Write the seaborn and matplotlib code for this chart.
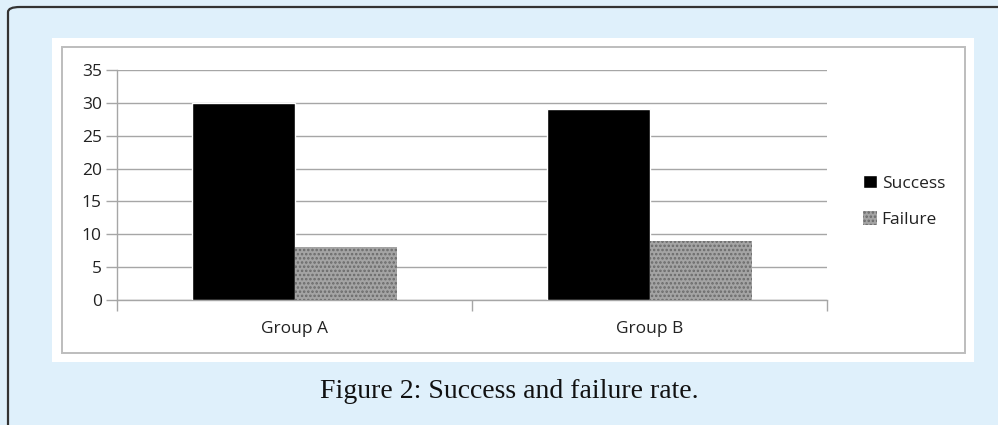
import numpy as np
import pandas as pd
import matplotlib
matplotlib.use("Agg")
import matplotlib.pyplot as plt
import seaborn as sns
from matplotlib.patches import Rectangle, FancyBboxPatch

# Chart data
groups = ["Group A", "Group B"]
success = [30, 29]
failure = [8, 9]
y_ticks = [0, 5, 10, 15, 20, 25, 30, 35]
caption = "Figure 2: Success and failure rate."

df = pd.DataFrame({
    "group": groups * 2,
    "status": ["Success"] * len(groups) + ["Failure"] * len(groups),
    "value": success + failure,
})

W, H = 998, 425
sns.set_theme(style="white")
plt.rcParams["font.family"] = ["Open Sans", "DejaVu Sans"]
plt.rcParams["hatch.color"] = "#5e5e5e"
plt.rcParams["hatch.linewidth"] = 1.2

fig = plt.figure(figsize=(W / 100, H / 100), dpi=100)
fig.patch.set_facecolor("#dff0fb")

def fx(px):
    return px / W

def fy(py):
    return 1 - py / H

# outer dark frame (rounded top-left corner)
frame = FancyBboxPatch((fx(8), fy(440)), fx(1100), 433 / H,
                       boxstyle="round,pad=0,rounding_size=0.012",
                       transform=fig.transFigure, facecolor="none",
                       edgecolor="#333333", linewidth=1.6, zorder=0)
fig.patches.append(frame)

# white panel and gray chart border
fig.patches.append(Rectangle((fx(52), fy(362)), fx(974 - 52), (362 - 38) / H,
                             transform=fig.transFigure, facecolor="white",
                             edgecolor="none", zorder=0))
fig.patches.append(Rectangle((fx(62), fy(353)), fx(965 - 62), (353 - 47) / H,
                             transform=fig.transFigure, facecolor="none",
                             edgecolor="#bdbdbd", linewidth=1.4, zorder=1))

ax = fig.add_axes([fx(117), fy(300), fx(827 - 117), (300 - 70) / H])
ax.set_facecolor("none")
ax.set_zorder(5)

sns.barplot(data=df, x="group", y="value", hue="status", ax=ax,
            palette={"Success": "black", "Failure": "#a4a4a4"},
            width=0.576, saturation=1, gap=0, legend=False, zorder=3)

for patch in ax.patches[len(groups):]:
    patch.set_hatch("....")
    patch.set_edgecolor("#6a6a6a")
    patch.set_linewidth(0)

grid_gray = "#a6a6a6"
ax.set_ylim(0, 35)
ax.set_yticks(y_ticks)
ax.set_xlim(-0.5, len(groups) - 0.5)
ax.grid(axis="y", color=grid_gray, linewidth=1.0, zorder=0)
ax.set_axisbelow(True)
ax.set_xlabel("")
ax.set_ylabel("")

for side in ["top", "right"]:
    ax.spines[side].set_visible(False)
for side in ["left", "bottom"]:
    ax.spines[side].set_color(grid_gray)
    ax.spines[side].set_linewidth(1.0)

ax.tick_params(axis="y", left=True, length=8, color=grid_gray, width=1,
               labelsize=12.5, labelcolor="#222222", pad=3)
ax.tick_params(axis="x", bottom=False, labelsize=12.5, labelcolor="#222222", pad=9)
ax.set_xticks(np.arange(-0.5, len(groups)), minor=True)
ax.tick_params(axis="x", which="minor", bottom=True, length=8,
               color=grid_gray, width=1)

# legend
handles = [Rectangle((0, 0), 1, 1, facecolor="black"),
           Rectangle((0, 0), 1, 1, facecolor="#a4a4a4", hatch="....",
                     edgecolor="#6a6a6a", linewidth=0)]
fig.legend(handles, ["Success", "Failure"], loc="center left",
           bbox_to_anchor=(fx(847), fy(201.5)), frameon=False,
           handlelength=0.8, handleheight=0.8, handletextpad=0.3,
           labelspacing=1.15, fontsize=12.5, labelcolor="#222222")

fig.text(fx(509), fy(392), caption, ha="center", va="center",
         fontsize=20, family=["Liberation Serif", "DejaVu Serif"],
         color="#111111")

fig.savefig("out.png", dpi=100, facecolor=fig.get_facecolor())
